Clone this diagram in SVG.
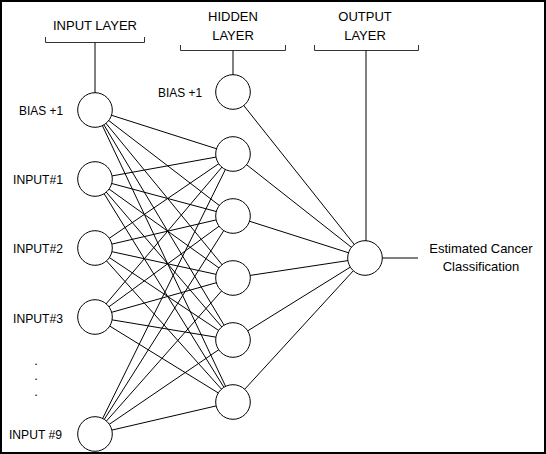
<svg xmlns="http://www.w3.org/2000/svg" width="546" height="454" viewBox="0 0 546 454">
<style>
text{font-family:"Liberation Sans",Arial,sans-serif;font-size:13px;fill:#000}
.m{text-anchor:middle}
.e{text-anchor:end}
.n{fill:#fff;stroke:#000;stroke-width:1}
#connectors line{stroke:#000;stroke-width:1}
.br{fill:none;stroke:#333;stroke-width:1}
</style>
<rect x="1" y="1" width="544" height="452" fill="#fff" stroke="#000" stroke-width="2"/>
<g id="labels">
<text class="m" x="95" y="30">INPUT LAYER</text>
<text class="m" x="233" y="21">HIDDEN</text>
<text class="m" x="233" y="40">LAYER</text>
<text class="m" x="365" y="21">OUTPUT</text>
<text class="m" x="365" y="40">LAYER</text>
<path class="br" d="M45.5,37 V42.5 H144.5 V37"/>
<path class="br" d="M180.5,45 V50.5 H285.5 V45"/>
<path class="br" d="M314.5,45 V50.5 H418.5 V45"/>
<text class="m" x="481" y="253">Estimated Cancer</text>
<text class="m" x="481" y="271">Classification</text>
<text class="m" x="36" y="365">.</text>
<text class="m" x="36" y="380">.</text>
<text class="m" x="36" y="396">.</text>
</g>
<g id="connectors">
<line x1="95" y1="42.5" x2="95" y2="93"/>
<line x1="233" y1="50.5" x2="233" y2="75"/>
<line x1="366" y1="50.5" x2="366" y2="241"/>
<line x1="365" y1="258" x2="418" y2="258"/>
<line x1="95" y1="110" x2="233" y2="154"/><line x1="95" y1="110" x2="233" y2="216"/><line x1="95" y1="110" x2="233" y2="278"/><line x1="95" y1="110" x2="233" y2="340"/><line x1="95" y1="110" x2="233" y2="402"/>
<line x1="95" y1="179" x2="233" y2="154"/><line x1="95" y1="179" x2="233" y2="216"/><line x1="95" y1="179" x2="233" y2="278"/><line x1="95" y1="179" x2="233" y2="340"/><line x1="95" y1="179" x2="233" y2="402"/>
<line x1="95" y1="248" x2="233" y2="154"/><line x1="95" y1="248" x2="233" y2="216"/><line x1="95" y1="248" x2="233" y2="278"/><line x1="95" y1="248" x2="233" y2="340"/><line x1="95" y1="248" x2="233" y2="402"/>
<line x1="95" y1="317" x2="233" y2="154"/><line x1="95" y1="317" x2="233" y2="216"/><line x1="95" y1="317" x2="233" y2="278"/><line x1="95" y1="317" x2="233" y2="340"/><line x1="95" y1="317" x2="233" y2="402"/>
<line x1="95" y1="434" x2="233" y2="154"/><line x1="95" y1="434" x2="233" y2="216"/><line x1="95" y1="434" x2="233" y2="278"/><line x1="95" y1="434" x2="233" y2="340"/><line x1="95" y1="434" x2="233" y2="402"/>
<line x1="233" y1="92" x2="365" y2="258"/><line x1="233" y1="154" x2="365" y2="258"/><line x1="233" y1="216" x2="365" y2="258"/><line x1="233" y1="278" x2="365" y2="258"/><line x1="233" y1="340" x2="365" y2="258"/><line x1="233" y1="402" x2="365" y2="258"/>
</g>
<g id="in-bias"><circle class="n" cx="95" cy="110" r="17.3"/><text class="e" x="63" y="115" textLength="44" lengthAdjust="spacingAndGlyphs">BIAS +1</text></g>
<g id="in-1"><circle class="n" cx="95" cy="179" r="17.3"/><text class="e" x="63" y="184" textLength="50" lengthAdjust="spacingAndGlyphs">INPUT#1</text></g>
<g id="in-2"><circle class="n" cx="95" cy="248" r="17.3"/><text class="e" x="63" y="253" textLength="50" lengthAdjust="spacingAndGlyphs">INPUT#2</text></g>
<g id="in-3"><circle class="n" cx="95" cy="317" r="17.3"/><text class="e" x="63" y="323" textLength="50" lengthAdjust="spacingAndGlyphs">INPUT#3</text></g>
<g id="in-9"><circle class="n" cx="95" cy="434" r="17.3"/><text class="e" x="62" y="439" textLength="53" lengthAdjust="spacingAndGlyphs">INPUT #9</text></g>
<g id="hid-bias"><circle class="n" cx="233" cy="92" r="17.3"/><text class="e" x="202" y="97" textLength="44" lengthAdjust="spacingAndGlyphs">BIAS +1</text></g>
<g id="hid-1"><circle class="n" cx="233" cy="154" r="17.3"/></g>
<g id="hid-2"><circle class="n" cx="233" cy="216" r="17.3"/></g>
<g id="hid-3"><circle class="n" cx="233" cy="278" r="17.3"/></g>
<g id="hid-4"><circle class="n" cx="233" cy="340" r="17.3"/></g>
<g id="hid-5"><circle class="n" cx="233" cy="402" r="17.3"/></g>
<g id="out"><circle class="n" cx="365" cy="258" r="17.3"/></g>
</svg>
